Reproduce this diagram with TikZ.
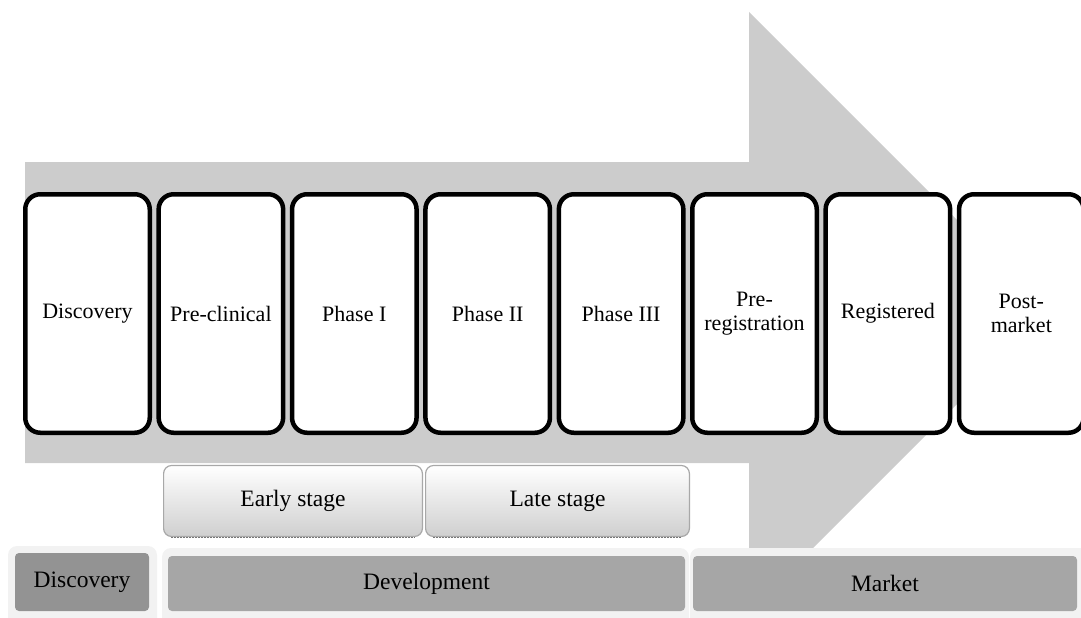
\documentclass[tikz,border=0pt]{standalone}
\usepackage{fontspec}
\setmainfont{Liberation Serif}
\usepackage{xcolor}
\usepackage{tikz}
\usetikzlibrary{positioning, calc}
\definecolor{arrowgray}{HTML}{CCCCCC}
\definecolor{rim}{HTML}{F2F2F2}
\definecolor{darkbar}{HTML}{939393}
\definecolor{bar}{HTML}{A6A6A6}
\definecolor{stageline}{HTML}{A8A8A8}
\definecolor{stagebot}{HTML}{CFCFCF}

\tikzset{
  phasebox/.style={draw=black, fill=white, line width=4.5pt, rounded corners=15pt,
    minimum width=124.5pt, minimum height=238.5pt, align=center, inner sep=0pt,
    font=\fontsize{22}{24}\selectfont},
  stagebox/.style={draw=stageline, line width=1.2pt, rounded corners=8pt,
    top color=white, bottom color=stagebot, minimum height=71pt, inner sep=0pt,
    font=\fontsize{23.5}{26}\selectfont},
  barbox/.style={rounded corners=4pt, inner sep=0pt, font=\fontsize{23.5}{26}\selectfont},
}

\begin{document}
\begin{tikzpicture}[x=1pt, y=-1pt]
  \useasboundingbox (0,0) rectangle (1081,618);
  \begin{scope}
  \clip (0,0) rectangle (1081,618);
  % big arrow behind the phases
  \fill[arrowgray] (25,162) -- (749,162) -- (749,12) -- (1049,312)
    -- (749,612) -- (749,463) -- (25,463) -- cycle;
  \node[phasebox] (ph0) at (87.5, 313.5) {Discovery};
  \node[phasebox, right=4.4pt of ph0] (ph1) {Pre-clinical};
  \node[phasebox, right=4.4pt of ph1] (ph2) {Phase I};
  \node[phasebox, right=4.4pt of ph2] (ph3) {Phase II};
  \node[phasebox, right=4.4pt of ph3] (ph4) {Phase III};
  \node[phasebox, right=4.4pt of ph4] (ph5) {Pre-\\registration};
  \node[phasebox, right=4.4pt of ph5] (ph6) {Registered};
  \node[phasebox, right=4.4pt of ph6] (ph7) {Post-\\market};
  % stages
  \node[stagebox, minimum width=258.8pt] (early) at (293, 501) {Early stage};
  \node[stagebox, minimum width=263.8pt] (late) at (557.5, 501) {Late stage};
  \foreach \s in {early, late} {
    \draw[stageline!70!black, line width=1pt, dash pattern=on 1.5pt off 1.5pt]
      ($(\s.south west)+(8,0)$) -- ($(\s.south east)+(-8,0)$);
  }
  % bottom bars
  \fill[rim, rounded corners=9pt] (8,546) rectangle (157,640);
  \fill[rim, rounded corners=9pt] (162,548) rectangle (689,640);
  \fill[rim, rounded corners=9pt] (690,548) rectangle (1095,640);
  \node[barbox, fill=darkbar, minimum width=134pt, minimum height=58pt] (disc) at (82, 582) {Discovery};
  \node[barbox, fill=bar, minimum width=517pt, minimum height=55pt] (dev) at (426.5, 583.5) {Development};
  \node[barbox, fill=bar, minimum width=384pt, minimum height=55pt] (mkt) at (885, 583.5) {Market};
  \end{scope}
\end{tikzpicture}
\end{document}
